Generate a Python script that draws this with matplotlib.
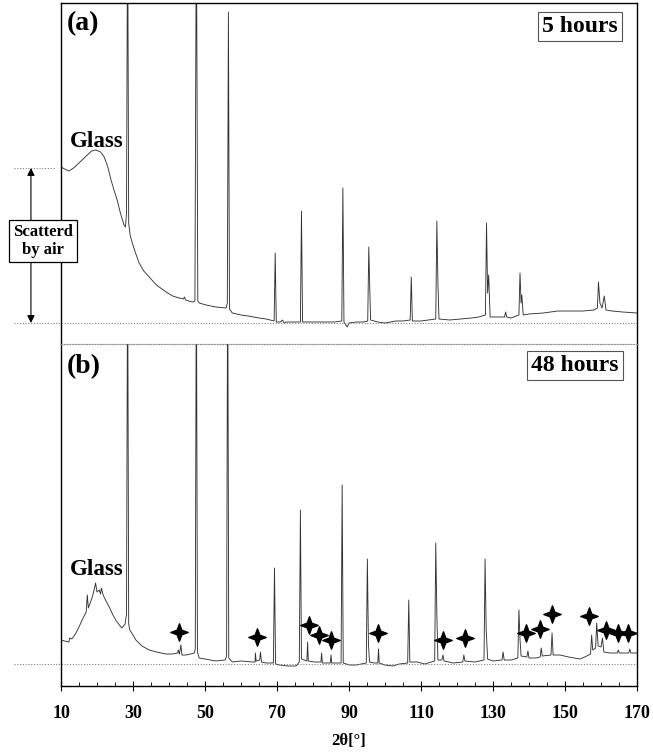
"""XRD patterns after 5 h and 48 h, two stacked panels sharing 2-theta."""
import matplotlib
matplotlib.use("Agg")
import matplotlib.pyplot as plt
from matplotlib.path import Path

plt.rcParams["font.family"] = ["Liberation Serif", "DejaVu Serif"]
plt.rcParams["font.weight"] = "bold"

# ---- panel (a): 5 hours (2-theta in degrees, intensity in a.u.) ----
two_theta_a = [10, 11, 12.2, 13.5, 15, 17, 18.5, 19.7, 21, 22, 23, 23.9, 24.8, 25.6,
               26.5, 27.5, 27.9, 28.2, 28.5, 28.8, 29.2, 29.8, 30.7, 31.7, 33, 34.5,
               36.5, 39.2, 41, 42.8, 44, 44.3, 44.6, 46.5, 47.2, 47.6, 48.0, 48.4,
               50.3, 53, 55.9, 56.2, 56.5, 56.8, 57.6, 60, 62, 65, 67, 69.2, 69.5,
               69.8, 71, 71.5, 72, 72.6, 74, 76.5, 76.8, 77.1, 80, 82, 84, 86, 88,
               88.3, 88.6, 89.5, 90, 92, 94, 95.2, 95.5, 95.8, 96.0, 98, 100, 103,
               105, 107, 107.3, 107.6, 110, 112, 114.1, 114.4, 114.7, 115, 118, 121,
               124, 126, 127.9, 128.2, 128.5, 128.8, 129.2, 131, 133.2, 133.5, 133.8,
               135, 137.2, 137.5, 137.8, 138.0, 138.4, 140, 144, 148, 152, 155, 158,
               159.0, 159.3, 159.7, 160.3, 160.9, 161.4, 163, 166, 170]
counts_a = [156, 154, 152, 155, 160, 167, 172, 173, 171, 166, 156, 143, 132, 123,
            110, 98, 96, 110, 420, 100, 88, 80, 70, 60, 52, 46,
            38, 31, 27, 25, 24, 26, 23, 21, 22, 420, 22, 20,
            18, 16, 15, 20, 311, 14, 10, 8, 7, 5, 4, 2, 70,
            1, 1, 3, 0, 1, 1, 1, 112, 1, 1, 1, 1, 1, 2,
            135, 1, -4, 0, 1, 1, 2, 76, 30, 3, 1, 0, 2,
            2, 3, 46, 2, 2, 3, 4, 102, 40, 4, 3, 4,
            5, 6, 8, 100, 30, 48, 6, 6, 6, 11, 6,
            5, 8, 50, 20, 28, 8, 9, 10, 12, 12, 12, 13,
            15, 41, 20, 15, 27, 13, 12, 11, 10]

# ---- panel (b): 48 hours ----
two_theta_b = [10, 11, 12.2, 12.4, 13, 14, 15, 16, 17, 17.3, 17.6, 18.2, 18.7, 19.2,
               19.6, 20, 20.6, 21, 21.2, 21.7, 22.5, 23.4, 24.3, 25.2, 26, 26.9, 27.8,
               28.2, 28.5, 28.8, 29.1, 30, 30.8, 32.5, 34.5, 36.5, 39.1, 41, 42.4,
               42.6, 42.9, 43.3, 43.6, 44.7, 46, 47, 47.3, 47.6, 47.9, 48.4, 50, 53,
               55.6, 56.0, 56.3, 56.6, 57.6, 60, 63.2, 63.9, 64.0, 64.2, 65.2, 65.4,
               65.7, 67, 69, 69.3, 69.6, 70.7, 73, 75.3, 76.2, 76.5, 76.8, 77.6, 78.3,
               78.5, 78.7, 80.4, 82.2, 82.4, 82.6, 84, 84.8, 85.0, 85.2, 87.8, 88.1,
               88.4, 90.1, 92, 94.8, 95.1, 95.4, 95.7, 97, 98, 98.2, 98.4, 100, 102.2,
               104, 106.3, 106.6, 106.9, 109, 111, 113.8, 114.1, 114.4, 114.7, 115.8,
               116.1, 116.4, 119, 121.6, 121.9, 122.2, 125, 127.5, 127.8, 128.1, 128.5,
               130, 132.5, 132.8, 133.1, 135, 136.9, 137.2, 137.5, 137.8, 139.4, 139.7,
               140, 142, 143.1, 143.4, 143.7, 146.1, 146.4, 146.7, 148.6, 151, 154.1,
               155.5, 157.1, 157.4, 157.7, 158.5, 158.8, 159.2, 160.0, 160.4, 160.8,
               162.5, 164.5, 164.8, 165.1, 167.7, 168, 168.3, 170]
counts_b = [24, 23, 22, 26, 25, 30, 37, 45, 52, 69, 56, 62, 67, 74,
            81, 72, 74, 70, 76, 69, 63, 57, 50, 44, 40, 36, 40,
            50, 420, 40, 34, 29, 24, 18, 14, 12, 10, 10, 11,
            14, 10, 19, 9, 9, 10, 11, 15, 420, 12, 6, 5, 3,
            4, 8, 420, 6, 2, 3, 2, 2, 11, 3, 4, 12,
            2, 1, 1, 96, 0, -1, -2, -2, 2, 154, 5, 4, 3,
            22, 3, 2, 2, 11, 1, 1, 1, 9, 1, 1, 179,
            1, -1, -1, 1, 105, 20, 2, 1, 1, 15, 1, -1, -2,
            0, 1, 64, 2, 2, 0, 3, 121, 50, 4, 4,
            9, 3, 1, 2, 9, 3, 2, 4, 105, 35, 5,
            3, 4, 12, 4, 4, 6, 54, 25, 8, 7, 13,
            6, 6, 7, 16, 8, 9, 31, 9, 9, 7, 5,
            7, 10, 29, 14, 16, 41, 18, 17, 26, 12,
            11, 11, 14, 11, 11, 15, 11, 11]

# secondary-phase markers in (b)
star_theta = [42.8, 64.4, 79, 81.8, 85, 98, 116.1, 122.3, 139.3, 143, 146.4,
              156.7, 161.5, 164.8, 167.6]
star_counts = [32, 27, 39, 29, 24, 31, 24, 26, 31, 35, 50, 48, 34, 31, 31]

x_ticks = [10, 30, 50, 70, 90, 110, 130, 150, 170]
air_top = 155          # top of the air-scatter level in (a)
x_left_ref = -3.1      # where the dotted reference lines start (outside the axes)
x_arrow = 1.65

STAR = Path([(0, 1), (0.27, 0.27), (1, 0), (0.27, -0.27), (0, -1), (-0.27, -0.27),
             (-1, 0), (-0.27, 0.27), (0, 1)], closed=True)

W, H = 653, 754
fig = plt.figure(figsize=(W / 100, H / 100), dpi=100)
ax_a = fig.add_axes([61 / W, 1 - 344 / H, 576 / W, 341 / H])
ax_b = fig.add_axes([61 / W, 1 - 686 / H, 576 / W, 342 / H])

line_kw = dict(color="#333333", lw=0.65)
dot_kw = dict(color="#808080", lw=0.8, ls=(0, (1, 1.5)), clip_on=False)

ax_a.plot(two_theta_a, counts_a, **line_kw)
ax_b.plot(two_theta_b, counts_b, **line_kw)
ax_b.plot(star_theta, star_counts, ls="none", marker=STAR, ms=12.5, color="black")

ax_a.set_ylim(-21, 320)
ax_b.set_ylim(-22, 320)
for ax in (ax_a, ax_b):
    ax.set_xlim(10, 170)
    ax.set_yticks([])
    for s in ax.spines.values():
        s.set_linewidth(1.0)

# dotted reference lines
ax_a.plot([x_left_ref, 170], [0, 0], **dot_kw)
ax_a.plot([x_left_ref, 8.0], [air_top, air_top], **dot_kw)
ax_b.plot([x_left_ref, 170], [0, 0], **dot_kw)

ax_a.spines["bottom"].set_visible(False)
ax_a.set_xticks([])
ax_b.spines["top"].set_color("#909090")
ax_b.spines["top"].set_linestyle((0, (1, 1.5)))
ax_b.spines["top"].set_linewidth(0.8)

ax_b.set_xticks(x_ticks)
ax_b.set_xticks(range(15, 170, 5), minor=True)
ax_b.tick_params(axis="x", which="major", direction="inout", length=7, width=0.8,
                 labelsize=13, pad=10)
ax_b.tick_params(axis="x", which="minor", direction="in", length=3, width=0.6)
for lab in ax_b.get_xticklabels():
    lab.set_fontweight("bold")
ax_b.set_xlabel("2θ[°]", fontsize=12, fontweight="bold", labelpad=8)

# panel labels and annotations
ax_a.text(0.010, 0.976, "(a)", transform=ax_a.transAxes, fontsize=20,
          fontweight="bold", va="top", ha="left")
ax_b.text(0.010, 0.970, "(b)", transform=ax_b.transAxes, fontsize=20,
          fontweight="bold", va="top", ha="left")
ax_a.text(12.6, 176, "Glass", fontsize=16.5, fontweight="bold", va="baseline")
ax_b.text(12.6, 89, "Glass", fontsize=16.5, fontweight="bold", va="baseline")

box_kw = dict(boxstyle="square,pad=0.18", fc="white", ec="#555555", lw=0.8)
ax_a.text(0.901, 0.931, "5 hours", transform=ax_a.transAxes, fontsize=17,
          fontweight="bold", ha="center", va="center", bbox=box_kw)
ax_b.text(0.8915, 0.937, "48 hours", transform=ax_b.transAxes, fontsize=17,
          fontweight="bold", ha="center", va="center", bbox=box_kw)

ax_a.annotate("", xy=(x_arrow, 0), xytext=(x_arrow, air_top),
              arrowprops=dict(arrowstyle="<|-|>", color="black", lw=0.8,
                              mutation_scale=11, shrinkA=0, shrinkB=0),
              annotation_clip=False)
ax_a.text(5.0, 82, "Scatterd\nby air", fontsize=12, fontweight="bold",
          ha="center", va="center", linespacing=1.15, clip_on=False, zorder=5,
          bbox=dict(boxstyle="square,pad=0.25", fc="white", ec="black", lw=0.9))

fig.savefig("out.png", dpi=100)
